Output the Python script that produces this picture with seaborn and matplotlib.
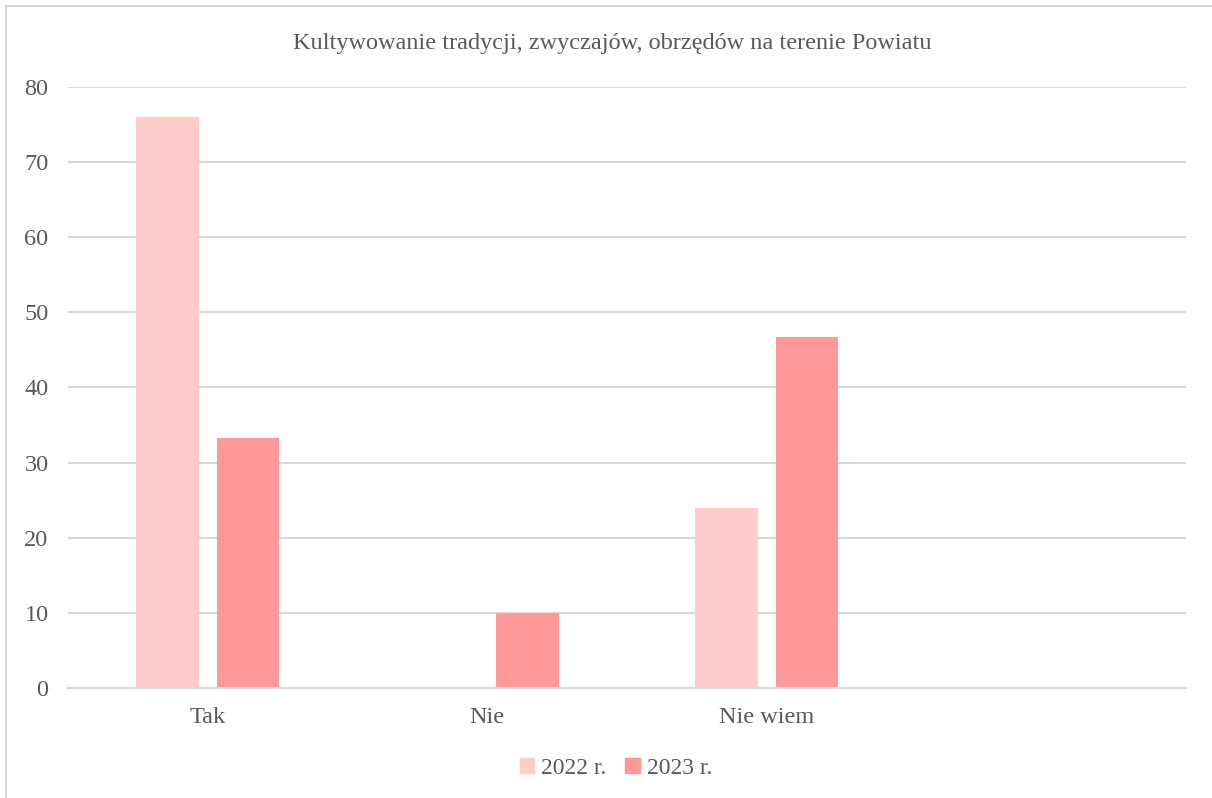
import pandas as pd
import matplotlib.pyplot as plt
import seaborn as sns
from matplotlib.patches import Rectangle

# dane
kategorie = ["Tak", "Nie", "Nie wiem"]
kolejnosc = ["Tak", "Nie", "Nie wiem", ""]
wartosci_2022 = [76, 0, 24]
wartosci_2023 = [33.3, 10, 46.7]
serie = ["2022 r.", "2023 r."]
kolory = ["#FFCCCC", "#FF9999"]

df = pd.DataFrame({
    "kategoria": kategorie * 2,
    "rok": [serie[0]] * 3 + [serie[1]] * 3,
    "wartosc": wartosci_2022 + wartosci_2023,
})

sns.set_theme(style="white")
plt.rcParams["font.family"] = ["Liberation Serif", "DejaVu Serif"]
szary = "#595959"

fig = plt.figure(figsize=(12.12, 7.98), dpi=100)
ax = fig.add_axes([68 / 1212, 1 - 688 / 798, (1186 - 68) / 1212, (688 - 87) / 798])

sns.barplot(data=df, x="kategoria", y="wartosc", hue="rok", order=kolejnosc,
            palette=kolory, width=0.573, gap=0.22, saturation=1, linewidth=0, ax=ax)

ax.set_ylim(0, 80)
ax.set_xlim(-0.5, 3.5)
ax.set_yticks(range(0, 81, 10))
ax.yaxis.grid(True, color="#D9D9D9", linewidth=1.5)
ax.set_axisbelow(True)
for s in ["left", "right", "top"]:
    ax.spines[s].set_visible(False)
ax.spines["bottom"].set_color("#D9D9D9")
ax.spines["bottom"].set_linewidth(1.5)
ax.tick_params(axis="y", length=0, pad=14, labelsize=17.5, labelcolor=szary)
ax.tick_params(axis="x", length=0, pad=14, labelsize=17.5, labelcolor=szary)
ax.set_xlabel("")
ax.set_ylabel("")

fig.text(0.505, 1 - 43 / 798, "Kultywowanie tradycji, zwyczajów, obrzędów na terenie Powiatu",
         ha="center", va="center", fontsize=17.5, color=szary)

ax.legend_.remove()
uchwyty = [Rectangle((0, 0), 1, 1, color=c) for c in kolory]
fig.legend(uchwyty, serie, loc="center", bbox_to_anchor=(616 / 1212, 1 - 768 / 798),
           ncol=2, frameon=False, fontsize=17, labelcolor=szary,
           handlelength=0.6, handleheight=0.6, handletextpad=0.3, columnspacing=0.8)

# ramka wykresu
fig.patches.append(Rectangle((6 / 1212, -0.1), 1.2, 1 - 6 / 798 + 0.1, transform=fig.transFigure,
                             fill=False, edgecolor="#D9D9D9", linewidth=1.5))

fig.savefig("out.png", dpi=100)
